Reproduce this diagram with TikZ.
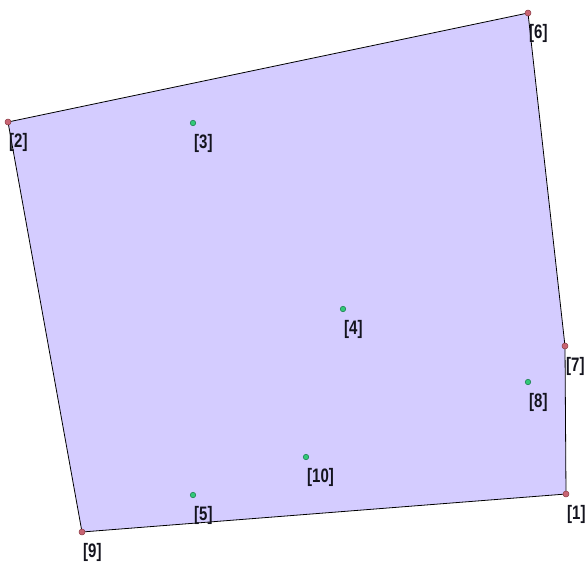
\documentclass[tikz,border=0pt]{standalone}
\usepackage{fontspec}
\setmainfont{Liberation Sans}
\definecolor{fillc}{RGB}{212,204,255}
\definecolor{vert}{RGB}{200,100,115}
\definecolor{vertb}{RGB}{140,60,70}
\definecolor{inner}{RGB}{50,200,120}
\definecolor{innerb}{RGB}{20,120,70}
\definecolor{lab}{RGB}{20,20,30}
\newcommand{\lbltext}[1]{\scalebox{1}[1.3]{#1}}
\begin{document}
\begin{tikzpicture}[x=1pt,y=-1pt,
  vdot/.style={circle,fill=vert,draw=vertb,line width=0.5pt,inner sep=0pt,minimum size=6pt},
  idot/.style={circle,fill=inner,draw=innerb,line width=0.5pt,inner sep=0pt,minimum size=5.5pt},
  lbl/.style={anchor=north west,inner sep=0pt,text=lab,font=\fontsize{15}{17}\selectfont\bfseries}]
\useasboundingbox (0,0) rectangle (587,565);
\coordinate (c1) at (566,494);
\coordinate (c2) at (8,122);
\coordinate (c3) at (193,123);
\coordinate (c4) at (343,309);
\coordinate (c5) at (193,495);
\coordinate (c6) at (528,13);
\coordinate (c7) at (565,346);
\coordinate (c8) at (528,382);
\coordinate (c9) at (82,532);
\coordinate (c10) at (306,457);
\fill[fillc] (c9) -- (c2) -- (c6) -- (c7) -- (c1) -- cycle;
\draw[black,line width=0.8pt] (c9) -- (c2) -- (c6) -- (c7) -- (c1) -- cycle;
\foreach \i in {1,2,6,7,9} { \node[vdot] (p\i) at (c\i) {}; }
\foreach \i in {3,4,5,8,10} { \node[idot] (p\i) at (c\i) {}; }
\foreach \i in {1,...,10} { \node[lbl] (l\i) at ([shift={(1,11)}]c\i) {\lbltext{[\i]}}; }
\end{tikzpicture}
\end{document}
